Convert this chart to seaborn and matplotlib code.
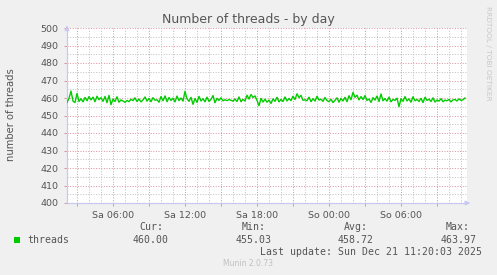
import numpy as np
import pandas as pd
import matplotlib
matplotlib.use("Agg")
import matplotlib.pyplot as plt
import seaborn as sns

title = "Number of threads - by day"
ylabel = "number of threads"
series_name = "threads"
start_hour = 2 + 10 / 60.0   # Sat 02:10
step_hours = 10 / 60.0
threads = [
    457.5, 459.8, 463.97, 458.2, 457.4, 462.6, 458.0, 459.6, 457.8, 460.3,
    458.4, 460.8, 458.9, 460.5, 457.9, 461.0, 459.0, 460.2, 458.1, 460.9,
    457.3, 461.5, 456.2, 459.4, 458.0, 460.7, 457.6, 458.9, 458.3, 457.5,
    458.6, 457.9, 459.3, 458.5, 460.1, 458.0, 459.4, 457.8, 458.9, 460.6,
    458.2, 459.7, 457.9, 460.2, 458.7, 459.0, 457.6, 460.8, 458.4, 461.2,
    457.9, 460.3, 458.6, 459.9, 457.8, 461.1, 458.5, 460.0, 458.2, 463.8,
    459.5, 458.1, 460.4, 456.4, 459.7, 457.5, 460.9, 458.3, 459.6, 457.8,
    460.5, 458.0, 459.2, 461.4, 457.3, 459.8, 458.6, 460.1, 458.4, 459.0,
    458.5, 459.1, 458.7, 458.2, 459.4, 458.0, 460.6, 457.9, 459.2, 458.3,
    461.6, 459.4, 462.0, 460.3, 461.2, 458.6, 455.6, 459.8, 457.7, 459.3,
    457.6, 458.8, 456.9, 459.5, 458.1, 460.4, 457.8, 459.2, 458.0, 460.6,
    458.3, 459.7, 458.5, 461.0, 459.1, 462.4, 460.2, 461.5, 458.7, 459.0,
    458.4, 460.5, 457.9, 459.6, 458.2, 461.0, 458.8, 459.3, 458.1, 460.3,
    458.5, 457.9, 459.2, 457.4, 458.7, 460.1, 457.6, 459.8, 458.3, 460.4,
    457.9, 461.3, 459.0, 463.2, 460.4, 461.6, 458.9, 460.8, 459.1, 461.4,
    458.6, 459.4, 457.5, 460.2, 458.8, 461.1, 458.0, 462.3, 458.4, 459.7,
    458.2, 460.5, 457.8, 459.2, 458.6, 459.9, 455.03, 459.6, 458.1, 460.8,
    458.3, 459.5, 457.6, 460.7, 458.4, 459.2, 458.0, 459.8, 457.4, 460.4,
    458.6, 459.3, 458.0, 460.1, 457.7, 458.9, 458.2, 459.6, 457.9, 458.8,
    458.4, 459.2, 457.8, 458.9, 459.1, 458.3, 459.5, 458.6, 459.0, 460.0,
]
xtick_hours = [6, 12, 18, 24, 30]
xtick_labels = ["Sa 06:00", "Sa 12:00", "Sa 18:00", "So 00:00", "So 06:00"]
stat_headers = ["Cur:", "Min:", "Avg:", "Max:"]
stat_values = ["460.00", "455.03", "458.72", "463.97"]
last_update = "Last update: Sun Dec 21 11:20:03 2025"
footer = "Munin 2.0.73"
side_text = "RRDTOOL / TOBI OETIKER"

df = pd.DataFrame({
    "hour": start_hour + step_hours * np.arange(len(threads)),
    "value": threads,
})

W, H = 497, 275
BG = "#F0F0F0"
TXT = "#555555"
AX = "#C8C8F0"
MAJ = "#DC96A0"
MIN = "#C2C2C2"
fig = plt.figure(figsize=(W / 100, H / 100), dpi=100, facecolor=BG)

def fx(px):
    return px / W

def fy(py):
    return 1 - py / H

ax = fig.add_axes([fx(67), fy(203), 400 / W, 175 / H])
ax.set_facecolor("white")

x0 = start_hour
x1 = start_hour + 400 / 12.0
ax.set_xlim(x0, x1)
ax.set_ylim(400, 500)

dot = (0, (1, 1.6))
gl = 0.72
kw = dict(lw=gl, ls=dot, zorder=0)
for v in np.arange(405, 500, 10):
    ax.axhline(v, color=MIN, **kw)
for v in np.arange(410, 501, 10):
    ax.axhline(v, color=MAJ, **kw)
for h in np.arange(3, 36, 1):
    if h % 3 != 0:
        ax.axvline(h, color=MIN, **kw)
for h in np.arange(3, 36, 3):
    ax.axvline(h, color=MAJ, **kw)

sns.lineplot(data=df, x="hour", y="value", ax=ax, color="#00CC00",
             lw=1.0, legend=False, zorder=3)

for s in ["top", "right"]:
    ax.spines[s].set_visible(False)
for s in ["left", "bottom"]:
    ax.spines[s].set_color(AX)
    ax.spines[s].set_linewidth(0.9)

ax.set_yticks(np.arange(400, 501, 10))
ax.set_yticklabels([str(v) for v in range(400, 501, 10)])
xt = list(range(3, 36, 3))
lab = {h: l for h, l in zip(xtick_hours, xtick_labels)}
ax.set_xticks(xt)
ax.set_xticklabels([lab.get(h, "") for h in xt])
ax.tick_params(axis="both", length=2.5, width=0.72, color=MAJ,
               labelsize=6.8, labelcolor=TXT)
ax.tick_params(axis="y", pad=3.5)
ax.tick_params(axis="x", pad=3)
ax.set_xlabel("")
ax.set_ylabel("")

# arrows
ax.annotate("", xy=(0, 1.03), xytext=(0, 0.99), xycoords="axes fraction",
            arrowprops=dict(arrowstyle="-|>", color=AX, lw=0.8,
                            mutation_scale=7), annotation_clip=False)
ax.annotate("", xy=(1.015, 0), xytext=(0.99, 0), xycoords="axes fraction",
            arrowprops=dict(arrowstyle="-|>", color=AX, lw=0.8,
                            mutation_scale=7), annotation_clip=False)

fig.text(fx(248), fy(19), title, ha="center", va="center", fontsize=9,
         color=TXT)
fig.text(fx(11), fy(115), ylabel, ha="center", va="center", rotation=90,
         fontsize=7.2, color=TXT)
fig.text(fx(488), fy(6), side_text, ha="center", va="top", rotation=270,
         fontsize=5.3, color="#C8C8C8")

mono = "DejaVu Sans Mono"
fig.patches.append(matplotlib.patches.Rectangle(
    (fx(14), fy(243)), 6 / W, 6 / H, transform=fig.transFigure,
    facecolor="#00CC00", edgecolor="none"))
fig.text(fx(27), fy(240), series_name, ha="left", va="center",
         fontsize=7.1, family=mono, color=TXT)
hdr_right = [163, 266, 368, 470]
val_right = [169, 272, 374, 477]
for h, v, xr, xv in zip(stat_headers, stat_values, hdr_right, val_right):
    fig.text(fx(xr), fy(227), h, ha="right", va="center", fontsize=7.1,
             family=mono, color=TXT)
    fig.text(fx(xv), fy(240), v, ha="right", va="center", fontsize=7.1,
             family=mono, color=TXT)
fig.text(fx(482), fy(252), last_update, ha="right", va="center",
         fontsize=7.1, family=mono, color=TXT)
fig.text(fx(248), fy(264), footer, ha="center", va="center", fontsize=5.5,
         color="#C0C0C0")

fig.savefig("out.png", dpi=100, facecolor=BG)
